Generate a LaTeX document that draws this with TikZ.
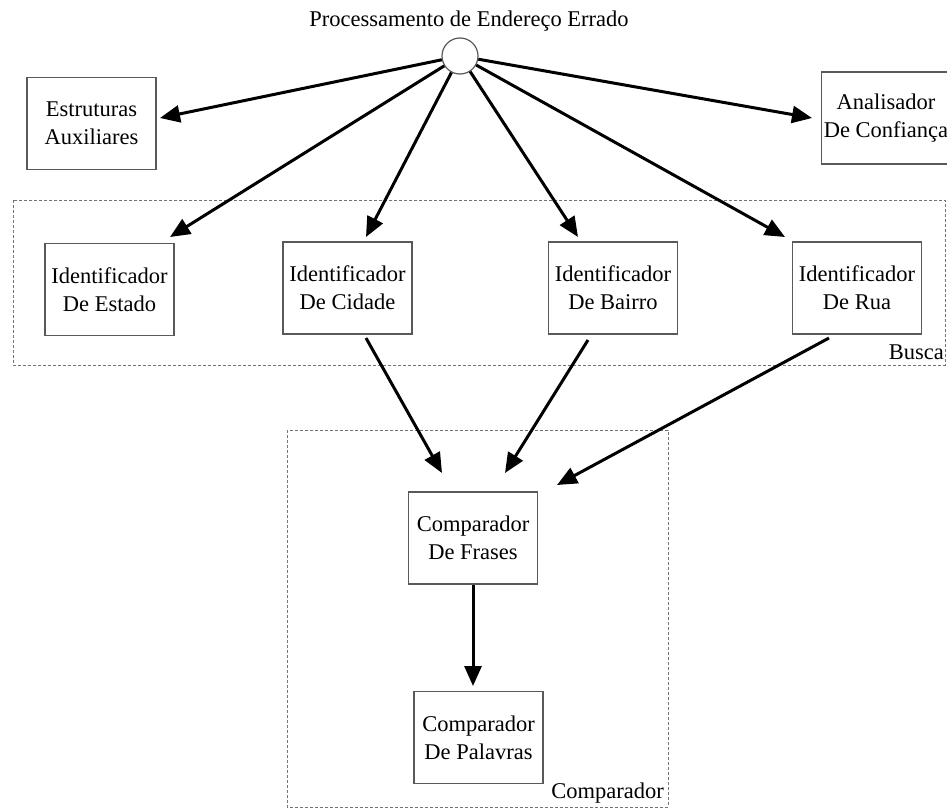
\documentclass[tikz,border=0pt]{standalone}
\usepackage{fontspec}
\setmainfont{Liberation Serif}
\usetikzlibrary{arrows.meta}
\begin{document}
\begin{tikzpicture}[x=1pt,y=-1pt,
  box/.style={draw=black!65,line width=1.4pt,fill=white,minimum width=129pt,minimum height=92pt,
    align=center,inner sep=0pt,font=\fontsize{22.5pt}{28pt}\selectfont},
  grp/.style={draw=black!55,line width=1pt,dash pattern=on 3pt off 2pt},
  lbl/.style={font=\fontsize{22.5pt}{28pt}\selectfont,inner sep=0pt},
  arr/.style={line width=3pt,-{Triangle[length=20pt,width=17pt]}}]
\clip (0,0) rectangle (947,808);
\fill[white] (0,0) rectangle (947,808);
% groups
\draw[grp] (13,200) rectangle (945,365);
\draw[grp] (287,430) rectangle (668,807);
\node[lbl,anchor=east] (lbusca) at (944,352) {Busca};
\node[lbl,anchor=east] (lcomp) at (664,793) {Comparador};
% title and circle
\node[lbl] (title) at (469,21) {Processamento de Endereço Errado};
\node[circle,draw=black!65,line width=1.2pt,fill=white,minimum size=36pt,inner sep=0pt] (c) at (460,56) {};
% boxes
\node[box] (estr) at (91.5,123.5) {Estruturas\\Auxiliares};
\node[box] (ana) at (886,118) {Analisador\\De Confiança};
\node[box] (est) at (109.5,289.5) {Identificador\\De Estado};
\node[box] (cid) at (347.5,288) {Identificador\\De Cidade};
\node[box] (bai) at (613,288) {Identificador\\De Bairro};
\node[box] (rua) at (857,288) {Identificador\\De Rua};
\node[box] (fra) at (473,538) {Comparador\\De Frases};
\node[box] (pal) at (478.5,737.5) {Comparador\\De Palavras};
% connector ends
\coordinate (tEstr) at (160,118);
\coordinate (tAna) at (812,118);
\coordinate (tEst) at (170,237);
\coordinate (tCid) at (366,237);
\coordinate (tBai) at (578,237);
\coordinate (tRua) at (785,237);
\coordinate (sCid) at (366,338);
\coordinate (sBai) at (588,340);
\coordinate (sRua) at (829,338);
\coordinate (tF1) at (442,473);
\coordinate (tF2) at (505,473);
\coordinate (tF3) at (557,485);
\coordinate (sFra) at (473,585);
\coordinate (tPal) at (473,686);
% connectors
\draw[arr] (c) -- (tEstr);
\draw[arr] (c) -- (tAna);
\draw[arr] (c) -- (tEst);
\draw[arr] (c) -- (tCid);
\draw[arr] (c) -- (tBai);
\draw[arr] (c) -- (tRua);
\draw[arr] (sCid) -- (tF1);
\draw[arr] (sBai) -- (tF2);
\draw[arr] (sRua) -- (tF3);
\draw[arr] (sFra) -- (tPal);
\end{tikzpicture}
\end{document}
